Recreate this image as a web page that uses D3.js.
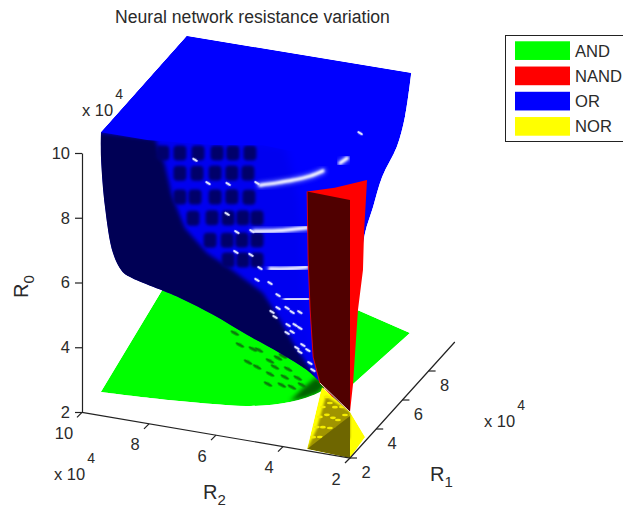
<!DOCTYPE html>
<html>
<head>
  <script src="https://d3js.org/d3.v7.min.js"></script>
  <style>
    html, body { margin: 0; padding: 0; background: #fff; overflow: hidden; }
    text { font-family: "Liberation Sans", Arial, sans-serif; fill: #2a2a2a; }
    .axis-line { stroke: #222; stroke-width: 1.2; fill: none; }
  </style>
</head>
<body>
  <svg width="623" height="508"></svg>
  <script>
    const width = 623, height = 508;

    // all surface points are [R1, R2, R0] in units of 10^4
    const andEdges = [[3.41,9.99,2],[8.1,10,3.03],[10,10,3.5],[10,4.84,2.46],[10.08,3.37,2],[6.45,3.65,2]];
    const andFront = [[6.45,3.65,2],[6.07,4.28,2],[5.64,4.32,2],[4.74,4.86,2],[4.09,5.8,2],[3.83,6.81,2],[3.55,8.58,2],[3.41,9.99,2]];
    const andShade = [[4.8,4.89,2],[5.13,4.57,2],[5.56,4.35,2],[6.12,4.33,2],[6.5,4.77,2],[5.71,4.85,2]];
    const andPits = [[8.3,7.9],[7.53,7.06],[7.53,6.88],[6.7,6.88],[6.99,6.34],[7.25,6.2],[6.68,6.07],[6.69,5.68],[6.21,6.03],
      [6.18,5.58],[6.25,5.22],[5.59,5.85],[5.67,5.47],[5.65,5.16],[5.88,4.95],[6.5,6.53],[7.42,6.12],[7.64,7.49]];

    const orTop = [[3.45,10,10],[10,10,10.04],[10,3.3,10.07]];
    const orRight = [[10,3.3,10.07],[10,3.49,8.68],[10,3.73,7.72],[10,4.17,6.71],[10,4.44,5.74],[10,4.68,4.89],[10,4.83,3.73],[5,3.32,3.45],[5,3.92,2.57]];
    const orLower = [[5,3.92,2.57],[5,4.07,2.64],[5,4.46,2.94],[5,5.26,3.32],[5,6.25,3.71],[5,7.26,4.15],[5,8.25,4.5],[5,9.74,4.88],
      [5,9.98,5.02],[4.37,10,5.85],[3.76,10,7.54],[3.45,10,9.22],[3.45,10,10]];
    const orBright = [[3.45,10,10],[10,10,10.04],[10,3.3,10.07],[5,4.37,9.59],[5,5.77,9.65],[5,7.26,9.39],[5,9.23,9.2]];
    const orMid = [[3.45,10,10],[5,5.11,9.74],[5,4.67,8.15],[5,4.52,5.09],[5,4.13,2.85],[5,7.65,6.08],[5,9.14,8.6]];
    const orShadow = [[3.45,10,10],[5,8.99,9.27],[5,8.7,8.52],[5,8.49,7.63],[5,8.1,6.68],[5,7.44,6.03],[5,6.81,5.71],[5,5.77,5.09],
      [5,5.26,4.34],[5,4.87,3.7],[5,4.28,2.88],[5,4.07,2.2],[5,4.46,2.5],[5,5.26,2.9],[5,6.25,3.3],[5,7.26,3.7],
      [5,8.25,4],[5,9.74,4.4],[5,10.6,4.6],[3,10.6,6],[2.5,10.6,8],[2.5,10.6,10.2]];

    // ripple on the OR surface, read on the R1 = 5 section as [R2, R0]
    const orDimples = [[8.76,8.88],[8.25,8.97],[7.71,9.07],[7.14,9.17],[6.67,9.25],[6.16,9.34],
      [8.25,8.35],[7.74,8.44],[7.2,8.54],[6.7,8.63],[6.22,8.71],
      [8.25,7.61],[7.8,7.69],[7.2,7.8],[6.7,7.89],[6.19,7.97],
      [7.86,7.03],[7.29,7.14],[6.81,7.22],[6.37,7.3],[5.95,7.37],
      [7.35,6.44],[6.84,6.53],[6.4,6.61],[5.95,6.69],
      [6.81,5.92],[6.37,6],[5.95,6.07]];
    const orGlints = [[7.8,8.84],[7.41,8.19],[6.81,8.27],[5.95,8.45],[6.84,7.34],[6.55,6.83],[6.1,6.94],[6.58,6.21],[6.13,6.2],
      [5.86,5.84],[5.56,5.43],[5.95,5.46],[5.32,5.1],[5.5,4.55],[5.32,4.7],[5.41,4.41],[5.05,4.75],[4.9,4.65],[4.67,4.69],
      [5.02,4.23],[4.81,4.27],[4.9,4.04],[4.67,4.2],[5.05,3.98],[4.76,3.57],[4.58,3.69],[4.67,3.46],[4.43,3.56],
      [4.37,3.17],[4.16,3.3],[4.28,2.97],[2.87,10.53]];
    const orArcs = [
      [[5.86,8.4],[5.35,8.56],[4.87,8.73],[4.37,8.94],[3.98,9.17]],
      [[3.47,9.5],[3.26,9.69]],
      [[6.03,6.95],[5.35,7.08],[4.46,7.33]],
      [[5.56,5.87],[5.05,5.96],[4.46,6.12]],
      [[5.11,5],[4.43,5.14]]
    ];

    const nandSheet = [[2,3.28,10],[2.5,2.65,10],[3.3,2,10],[3.07,2,8.47],[2.99,2,7.36],[2.61,2,6.3],[2.23,2,4.18],[2,2,3.42]];
    const nandFace = [[2,3.28,10],[2,2,9.96],[2,2,3.42],[2,2.51,3.79],[2,2.9,4.16],[2,3.1,4.92],[2,3.19,6.36],[2,3.25,7.89]];

    const norSheet = [[2,2.84,4.04],[2,2,3.42],[3.15,2,2.13],[2,2,2],[2,3.28,2.05]];
    const norMid = [[2,2.72,3.78],[2,2,3.42],[2,2,2.6],[2,3.28,2.05],[2,3,2.7]];
    const norFace = [[2,2,3.3],[2,2,2],[2,3.28,2.05]];
    // light steps on the NOR surface, R1 = 2 section as [R2, R0]
    const norSteps = [[2.69,3.76],[2.6,3.59],[2.45,3.49],[2.81,3.43],[2.9,3.11],[2.69,3.21],[2.51,3.15],[2.36,3.11],[2.99,2.78],
      [2.81,2.81],[2.6,2.82],[2.36,2.86],[3.1,2.45],[2.9,2.49],[2.66,2.5],[2.81,2.26],[2.24,3.53],[2.15,3.3]];

    const ticksR0 = [2, 4, 6, 8, 10];
    const ticksR1 = [2, 4, 6, 8];
    const ticksR2 = [2, 4, 6, 8, 10];
    const legendLabels = ["AND", "NAND", "OR", "NOR"];
    const legendColors = ["#00ff00", "#ff0000", "#0000ff", "#ffff00"];

    // oblique axes: each one moves the point along its own screen direction
    const corner = [350, 458];
    const r1x = d3.scaleLinear().domain([2, 10]).range([0, 104.8]);
    const r1y = d3.scaleLinear().domain([2, 10]).range([0, -116]);
    const r2x = d3.scaleLinear().domain([2, 10]).range([0, -268]);
    const r2y = d3.scaleLinear().domain([2, 10]).range([0, -45.6]);
    const r0y = d3.scaleLinear().domain([2, 10]).range([0, -259.2]);

    const project = d => [corner[0] + r1x(d[0]) + r2x(d[1]), corner[1] + r1y(d[0]) + r2y(d[1]) + r0y(d[2])];
    const line = d3.line().x(d => project(d)[0]).y(d => project(d)[1]);
    const curve = d3.line().x(d => project(d)[0]).y(d => project(d)[1]).curve(d3.curveCatmullRom);
    const polygon = pts => line(pts) + "Z";
    const join = (...parts) => parts.map((p, i) => i ? p.replace("M", "L") : p).join("") + "Z";

    const svg = d3.select("svg").attr("width", width).attr("height", height);
    const defs = svg.append("defs");

    function blur(id, amount) {
      defs.append("filter").attr("id", id)
        .attr("x", "-30%").attr("y", "-30%").attr("width", "160%").attr("height", "160%")
        .append("feGaussianBlur").attr("stdDeviation", amount);
    }
    blur("soft4", 4);
    blur("soft2", 2);
    blur("soft15", 1.4);
    blur("soft1", 1);
    blur("soft05", 0.6);

    const orPath = join(line(orTop), curve(orRight), curve(orLower));
    const andPath = join(line(andEdges), curve(andFront));
    const norPath = polygon(norSheet);
    defs.append("clipPath").attr("id", "orClip").append("path").attr("d", orPath);
    defs.append("clipPath").attr("id", "andClip").append("path").attr("d", andPath);
    defs.append("clipPath").attr("id", "norClip").append("path").attr("d", norPath);

    // AND
    const and = svg.append("g").attr("clip-path", "url(#andClip)");
    and.append("path").attr("d", andPath).attr("fill", "#00ff00");
    and.append("path").attr("d", polygon(andShade)).attr("fill", "#006000").attr("filter", "url(#soft2)");
    and.selectAll("ellipse")
      .data(andPits)
      .enter().append("ellipse")
      .attr("rx", 4.6).attr("ry", 1.5)
      .attr("fill", "#0a7a0a")
      .attr("filter", "url(#soft05)")
      .attr("transform", d => {
        const p = project([d[0], d[1], 2]);
        return `translate(${p[0]},${p[1]}) rotate(28)`;
      });

    // OR
    const or = svg.append("g").attr("clip-path", "url(#orClip)");
    or.append("path").attr("d", orPath).attr("fill", "#0000ff");
    or.append("path").attr("d", polygon(orMid)).attr("fill", "#0000f0").attr("filter", "url(#soft4)");
    or.append("path").attr("d", polygon(orShadow)).attr("fill", "#000055").attr("filter", "url(#soft2)");
    or.selectAll(".dimple")
      .data(orDimples)
      .enter().append("rect")
      .attr("class", "dimple")
      .attr("x", d => project([5, d[0], d[1]])[0] - 6.5)
      .attr("y", d => project([5, d[0], d[1]])[1] - 7.5)
      .attr("width", 13).attr("height", 15).attr("rx", 4)
      .attr("fill", "#00006a")
      .attr("filter", "url(#soft15)");
    or.append("path").attr("d", polygon(orBright)).attr("fill", "#0000ff").attr("filter", "url(#soft05)");
    or.selectAll(".halo")
      .data(orArcs)
      .enter().append("path")
      .attr("class", "halo")
      .attr("d", d => curve(d.map(p => [5, p[0], p[1]])))
      .attr("fill", "none").attr("stroke", "#7078ff").attr("stroke-width", 6).attr("stroke-linecap", "round")
      .attr("filter", "url(#soft2)");
    or.selectAll(".arc")
      .data(orArcs)
      .enter().append("path")
      .attr("class", "arc")
      .attr("d", d => curve(d.map(p => [5, p[0], p[1]])))
      .attr("fill", "none").attr("stroke", "#fff").attr("stroke-width", 3).attr("stroke-linecap", "round")
      .attr("filter", "url(#soft1)");
    or.selectAll(".glint")
      .data(orGlints)
      .enter().append("ellipse")
      .attr("class", "glint")
      .attr("rx", 3.2).attr("ry", 1.3)
      .attr("fill", "#dfe4ff")
      .attr("filter", "url(#soft05)")
      .attr("transform", d => {
        const p = project([5, d[0], d[1]]);
        return `translate(${p[0]},${p[1]}) rotate(32)`;
      });

    // NOR
    const nor = svg.append("g").attr("clip-path", "url(#norClip)");
    nor.append("path").attr("d", norPath).attr("fill", "#ffff00");
    nor.append("path").attr("d", polygon(norMid)).attr("fill", "#a09400").attr("filter", "url(#soft1)");
    nor.selectAll("ellipse")
      .data(norSteps)
      .enter().append("ellipse")
      .attr("cx", d => project([2, d[0], d[1]])[0])
      .attr("cy", d => project([2, d[0], d[1]])[1])
      .attr("rx", 3).attr("ry", 1.3)
      .attr("fill", "#f4ec00");
    nor.append("path").attr("d", polygon(norFace)).attr("fill", "#6e6600");

    // NAND
    svg.append("path").attr("d", polygon(nandSheet)).attr("fill", "#ff0000");
    svg.append("path").attr("d", polygon(nandFace)).attr("fill", "#500000");
    svg.append("path").attr("d", line(nandFace.slice(3).concat([nandFace[0]])))
      .attr("fill", "none").attr("stroke", "#ff0000").attr("stroke-width", 0.8);
    svg.append("path").attr("d", line([nandFace[2], [2, 2.9, 4.16]]))
      .attr("fill", "none").attr("stroke", "#e8e0c8").attr("stroke-width", 1);

    // axes
    const r0Axis = d3.axisLeft(d3.scaleLinear().domain([2, 10]).range([412, 153]))
      .tickValues(ticksR0).tickSize(7).tickSizeOuter(0).tickPadding(5);
    const r0g = svg.append("g").attr("transform", "translate(82,0)").call(r0Axis);
    r0g.selectAll("path, line").attr("stroke", "#222").attr("stroke-width", 1.2);
    r0g.selectAll("text").attr("font-size", 16.5).attr("font-family", null);

    svg.append("path").attr("class", "axis-line").attr("d", line([[2, 10, 2], [2, 2, 2], [10, 2, 2]]));

    const r2Ticks = svg.append("g").selectAll("g")
      .data(ticksR2)
      .enter().append("g")
      .attr("transform", d => `translate(${project([2, d, 2])})`);
    r2Ticks.append("line").attr("class", "axis-line").attr("x2", -5).attr("y2", 5);
    r2Ticks.append("text").attr("x", d => d === 10 ? -18 : -14).attr("y", 26.5)
      .attr("text-anchor", "middle").attr("font-size", 16.5).text(d => d);

    const r1Ticks = svg.append("g").selectAll("g")
      .data(ticksR1)
      .enter().append("g")
      .attr("transform", d => `translate(${project([d, 2, 2])})`);
    r1Ticks.append("line").attr("class", "axis-line").attr("x2", 7).attr("y2", 0);
    r1Ticks.append("text").attr("x", 16).attr("y", 20).attr("text-anchor", "middle").attr("font-size", 16.5).text(d => d);

    // title, scale notes and axis names
    svg.append("text").attr("x", 252.5).attr("y", 23).attr("text-anchor", "middle").attr("font-size", 17.6)
      .text("Neural network resistance variation");

    function scaleNote(x, y) {
      const t = svg.append("text").attr("x", x).attr("y", y).attr("font-size", 16.5);
      t.append("tspan").text("x 10");
      t.append("tspan").attr("dx", 2).attr("dy", -17).attr("font-size", 14).text("4");
    }
    scaleNote(82, 116);
    scaleNote(54, 480);
    scaleNote(484, 427);

    function axisName(x, y, sub, rotate) {
      const t = svg.append("text").attr("font-size", 20)
        .attr("transform", `translate(${x},${y}) rotate(${rotate})`);
      t.append("tspan").text("R");
      t.append("tspan").attr("dy", 6).attr("font-size", 15).text(sub);
    }
    axisName(203, 499, "2", 0);
    axisName(430, 481, "1", 0);
    axisName(28, 298, "0", -90);

    // legend
    const legendY = d3.scaleBand().domain(legendLabels).range([38, 139]).paddingInner(0.26).paddingOuter(0.13);
    svg.append("rect").attr("x", 505.5).attr("y", 35.5).attr("width", 130).attr("height", 106)
      .attr("fill", "#fff").attr("stroke", "#222").attr("stroke-width", 1);
    svg.selectAll(".swatch")
      .data(legendLabels)
      .enter().append("rect")
      .attr("class", "swatch")
      .attr("x", 515).attr("width", 55)
      .attr("y", d => legendY(d)).attr("height", legendY.bandwidth())
      .attr("fill", (d, i) => legendColors[i]);
    svg.selectAll(".legend-label")
      .data(legendLabels)
      .enter().append("text")
      .attr("class", "legend-label")
      .attr("x", 575)
      .attr("y", d => legendY(d) + legendY.bandwidth() / 2 + 6)
      .attr("font-size", 16.6)
      .text(d => d);
  </script>
</body>
</html>
